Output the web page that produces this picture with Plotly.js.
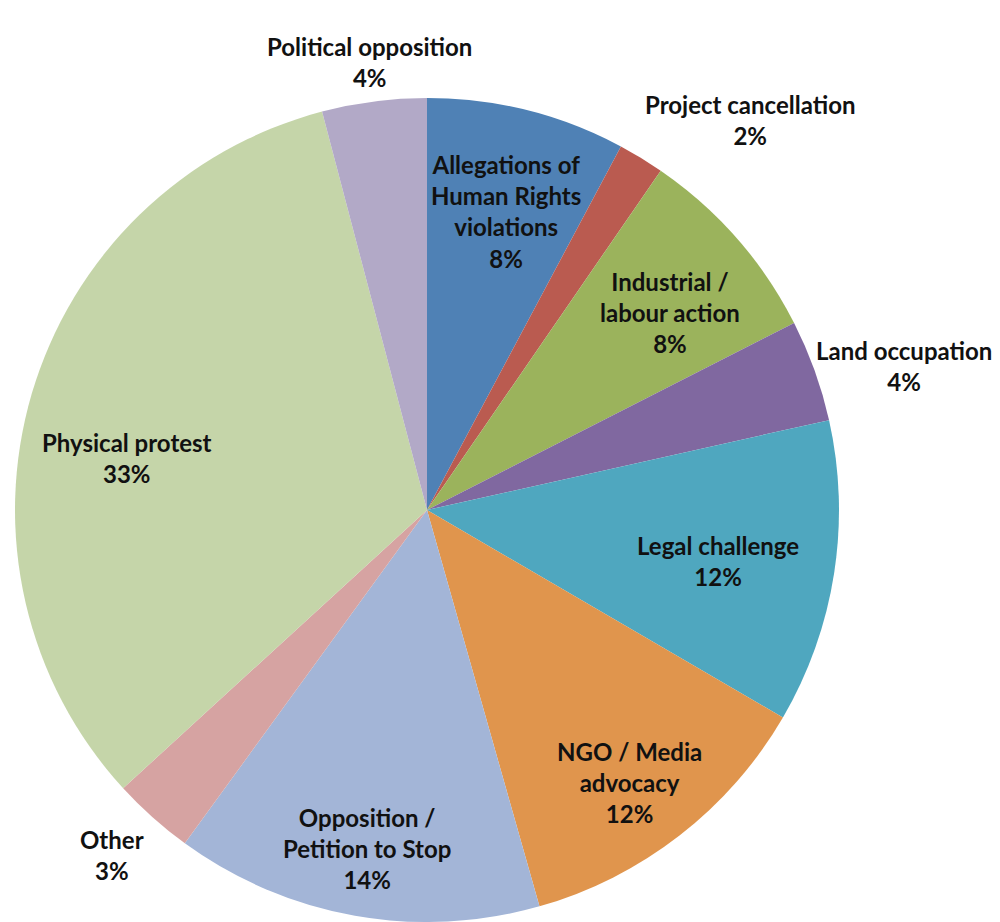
<!DOCTYPE html>
<html>
<head>
<meta charset="utf-8">
<script src="https://cdn.plot.ly/plotly-3.0.1.min.js"></script>
<style>html,body{margin:0;padding:0;background:#fff}#chart{width:1000px;height:922px}</style>
</head>
<body>
<div id="chart"></div>
<script>
const labels = ["Allegations of<br>Human Rights<br>violations", "Project cancellation", "Industrial /<br>labour action", "Land occupation", "Legal challenge", "NGO / Media<br>advocacy", "Opposition /<br>Petition to Stop", "Other", "Physical protest", "Political opposition"];
const values = [7.8, 1.8, 7.9, 4.0, 11.9, 12.2, 14.4, 3.2, 32.7, 4.1];
const colors = ["#4F81B5", "#BA5B50", "#9BB35C", "#8068A0", "#4FA7BF", "#E0954D", "#A3B5D7", "#D6A3A2", "#C5D5A9", "#B2A9C7"];

// label placement (style): radius factor relative to pie radius, angle shift in degrees
const labelRadius = [0.75, 1.23, 0.76, 1.21, 0.716, 0.825, 0.835, 1.134, 0.74, 1.097];
const labelShift = [0.8, 8.3, 2.0, 3.0, 1.1, 1.2, 0.0, 0.6, -6.6, 0.1];

const W = 1000, H = 922;
const dom = {x: [0.015, 0.839], y: [0, 0.8937]};
const cx = (dom.x[0] + dom.x[1]) / 2 * W;
const cy = H - (dom.y[0] + dom.y[1]) / 2 * H;
const R = Math.min((dom.x[1] - dom.x[0]) * W, (dom.y[1] - dom.y[0]) * H) / 2;

const total = values.reduce((a, b) => a + b, 0);
let cum = 0;
const annotations = values.map((v, i) => {
  const mid = (cum + v / 2) / total * 360 + labelShift[i];
  cum += v;
  const t = mid * Math.PI / 180;
  const px = cx + labelRadius[i] * R * Math.sin(t);
  const py = cy - labelRadius[i] * R * Math.cos(t);
  return {
    x: px / W, y: 1 - py / H, xref: "paper", yref: "paper",
    xanchor: "center", yanchor: "middle", showarrow: false,
    text: labels[i] + "<br>" + Math.round(v / total * 100) + "%",
    font: {family: "Lato, sans-serif", size: 24, color: "#111", weight: "bold"},
    align: "center"
  };
});

Plotly.newPlot("chart", [{
  type: "pie",
  labels: labels,
  values: values,
  sort: false,
  direction: "clockwise",
  rotation: 0,
  marker: {colors: colors, line: {width: 0}},
  textinfo: "none",
  hoverinfo: "none",
  domain: dom
}], {
  width: W, height: H,
  margin: {l: 0, r: 0, t: 0, b: 0},
  showlegend: false,
  paper_bgcolor: "#fff",
  annotations: annotations
}, {displayModeBar: false, staticPlot: true});
</script>
</body>
</html>
